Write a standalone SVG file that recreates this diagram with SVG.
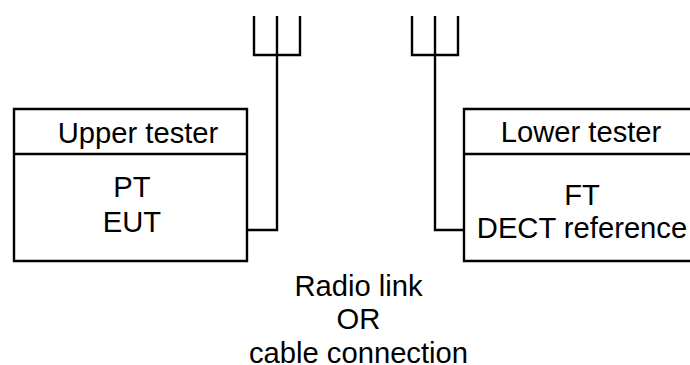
<svg xmlns="http://www.w3.org/2000/svg" width="690" height="365" viewBox="0 0 690 365">
<style>
.l{fill:none;stroke:#000;stroke-width:2.4}
text{font-family:"Liberation Sans",Arial,sans-serif;font-size:29.2px;fill:#000;text-anchor:middle}
</style>
<rect width="690" height="365" fill="#fff"/>
<g id="connectors">
<path class="l" d="M254 16V55H300V16M277 16V230H247"/>
<path class="l" d="M412 16V55H458V16M435 16V230H464"/>
</g>
<g id="upper-tester">
<path class="l" d="M14 109H247V261H14ZM14 154H247"/>
<text x="138" y="143">Upper tester</text>
<text x="132" y="197">PT</text>
<text x="132" y="232">EUT</text>
</g>
<g id="lower-tester">
<path class="l" d="M690 109H464V261H690M464 154H690"/>
<text x="581" y="142">Lower tester</text>
<text x="582" y="205">FT</text>
<text x="582" y="238">DECT reference</text>
</g>
<g id="link-label">
<text x="358.5" y="296">Radio link</text>
<text x="358.5" y="329">OR</text>
<text x="358.5" y="363">cable connection</text>
</g>
</svg>
